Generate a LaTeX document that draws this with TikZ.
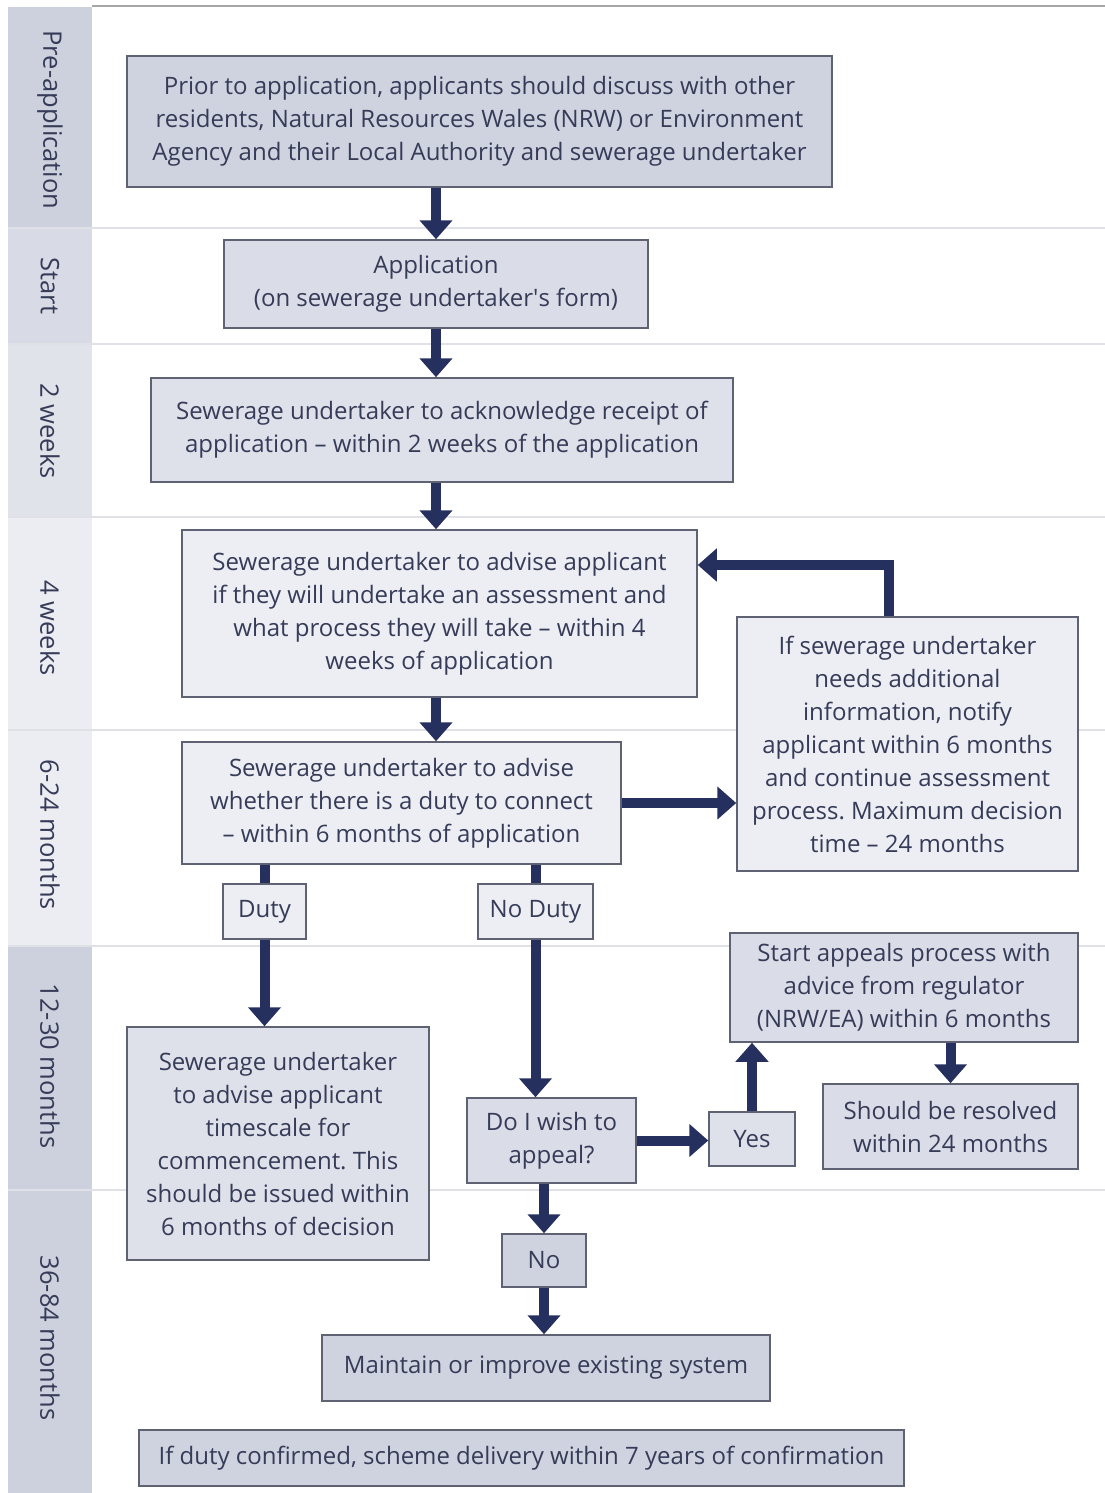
\documentclass[tikz,border=0pt]{standalone}
\usepackage{fontspec}
\setmainfont{Open Sans}
\usetikzlibrary{arrows.meta}
\definecolor{navy}{HTML}{26305F}
\definecolor{txt}{HTML}{363B58}
\definecolor{edgec}{HTML}{5E6272}
\definecolor{sepc}{HTML}{DFE1E6}
\definecolor{colA}{HTML}{CDD0DD}
\definecolor{colB}{HTML}{D8DBE5}
\definecolor{colC}{HTML}{E1E3EA}
\definecolor{colD}{HTML}{ECEDF2}
\definecolor{fA}{HTML}{CFD2DF}
\definecolor{fB}{HTML}{DADCE7}
\definecolor{fC}{HTML}{DFE1EA}
\definecolor{fD}{HTML}{ECEEF3}
\tikzset{
  box/.style={draw=edgec, line width=1.5pt, inner sep=0pt, align=center,
    text=txt, font=\fontsize{24}{33}\selectfont\frenchspacing},
  arr/.style={draw=navy, line width=10pt, -{Triangle[width=32pt,length=19pt]}},
  plain/.style={draw=navy, line width=10pt},
  sep/.style={draw=sepc, line width=1.5pt},
  lbl/.style={rotate=-90, text=txt, font=\fontsize{25.5}{30}\selectfont}
}
\begin{document}
\begin{tikzpicture}[x=1pt,y=-1pt]
\useasboundingbox (0,0) rectangle (1105,1493);
% left column bands
\fill[colA] (8,7) rectangle (92,228);
\fill[colB] (8,228) rectangle (92,344);
\fill[colC] (8,344) rectangle (92,517);
\fill[colD] (8,517) rectangle (92,730);
\fill[colD] (8,730) rectangle (92,946);
\fill[colA] (8,946) rectangle (92,1190);
\fill[colA] (8,1190) rectangle (92,1493);
% top line
\coordinate (tl) at (92,6);
\coordinate (tr) at (1105,6);
\draw[draw=gray!70, line width=2pt] (tl) -- (tr);
% separators
\foreach \yy/\nm in {228/s1,344/s2,517/s3,730/s4,946/s5,1190/s6}{
  \coordinate (\nm L) at (8,\yy);
  \coordinate (\nm R) at (1105,\yy);
  \draw[sep] (\nm L) -- (\nm R);
}
% labels
\node[lbl] (l1) at (50,120) {Pre-application};
\node[lbl] (l2) at (50,286) {Start};
\node[lbl] (l3) at (50,431) {2 weeks};
\node[lbl] (l4) at (50,628) {4 weeks};
\node[lbl] (l5) at (50,835) {6-24 months};
\node[lbl] (l6) at (50,1066) {12-30 months};
\node[lbl] (l7) at (50,1338) {36-84 months};
% boxes
\node[box, fill=fA, minimum width=705pt, minimum height=131pt] (pre) at (479.5,121.5)
  {Prior to application, applicants should discuss with other\\residents, Natural Resources Wales (NRW) or Environment\\Agency and their Local Authority and sewerage undertaker};
\node[box, fill=fB, minimum width=424pt, minimum height=88pt] (app) at (436,284)
  {Application\\(on sewerage undertaker\textquotesingle s form)};
\node[box, fill=fC, minimum width=582pt, minimum height=104pt] (ack) at (442,430)
  {Sewerage undertaker to acknowledge receipt of\\application -- within 2 weeks of the application};
\node[box, fill=fD, minimum width=515pt, minimum height=167pt] (adv) at (439.5,613.5)
  {Sewerage undertaker to advise applicant\\if they will undertake an assessment and\\what process they will take -- within 4\\weeks of application};
\node[box, fill=fD, minimum width=439pt, minimum height=122pt] (duty6) at (401.5,803)
  {Sewerage undertaker to advise\\whether there is a duty to connect\\-- within 6 months of application};
\node[box, fill=fD, minimum width=341pt, minimum height=254pt] (info) at (907.5,744)
  {If sewerage undertaker\\needs additional\\information, notify\\applicant within 6 months\\and continue assessment\\process. Maximum decision\\time -- 24 months};
\node[box, fill=fD, minimum width=83pt, minimum height=55pt] (dutyL) at (264.5,911.5) {Duty};
\node[box, fill=fD, minimum width=115pt, minimum height=55pt] (nodutyL) at (535.5,911.5) {No Duty};
\node[box, fill=fC, minimum width=302pt, minimum height=233pt] (times) at (278,1143.5)
  {Sewerage undertaker\\to advise applicant\\timescale for\\commencement. This\\should be issued within\\6 months of decision};
\node[box, fill=fB, minimum width=169pt, minimum height=85pt] (appeal) at (551.5,1140.5)
  {Do I wish to\\appeal?};
\node[box, fill=fC, minimum width=86pt, minimum height=54pt] (yes) at (752,1139) {Yes};
\node[box, fill=fB, minimum width=348pt, minimum height=109pt] (startap) at (904,987.5)
  {Start appeals process with\\advice from regulator\\(NRW/EA) within 6 months};
\node[box, fill=fB, minimum width=255pt, minimum height=85pt] (resolved) at (950.5,1126.5)
  {Should be resolved\\within 24 months};
\node[box, fill=fA, minimum width=84pt, minimum height=53pt] (no) at (544,1260.5) {No};
\node[box, fill=fA, minimum width=448pt, minimum height=66pt] (maintain) at (546,1368)
  {Maintain or improve existing system};
\node[box, fill=fA, minimum width=765pt, minimum height=56pt] (confirmed) at (521.5,1458)
  {If duty confirmed, scheme delivery within 7 years of confirmation};
% connectors
\coordinate (spine) at (436,0);
\draw[arr] (spine |- pre.south) -- (app.north);
\draw[arr] (app.south) -- (spine |- ack.north);
\draw[arr] (spine |- ack.south) -- (spine |- adv.north);
\draw[arr] (spine |- adv.south) -- (spine |- duty6.north);
\draw[arr] (duty6.east) -- (duty6.east -| info.west);
\coordinate (loop) at (889,565);
\draw[arr] (loop |- info.north) -- (loop) -- (loop -| adv.east);
\draw[plain] (dutyL.north |- duty6.south) -- (dutyL.north);
\draw[arr] (dutyL.south) -- (dutyL.south |- times.north);
\draw[plain] (nodutyL.north |- duty6.south) -- (nodutyL.north);
\draw[arr] (nodutyL.south) -- (nodutyL.south |- appeal.north);
\draw[arr] (appeal.east) -- (appeal.east -| yes.west);
\draw[arr] (yes.north) -- (yes.north |- startap.south);
\draw[arr] (resolved.north |- startap.south) -- (resolved.north);
\draw[arr] (no.north |- appeal.south) -- (no.north);
\draw[arr] (no.south) -- (no.south |- maintain.north);
\end{tikzpicture}
\end{document}
